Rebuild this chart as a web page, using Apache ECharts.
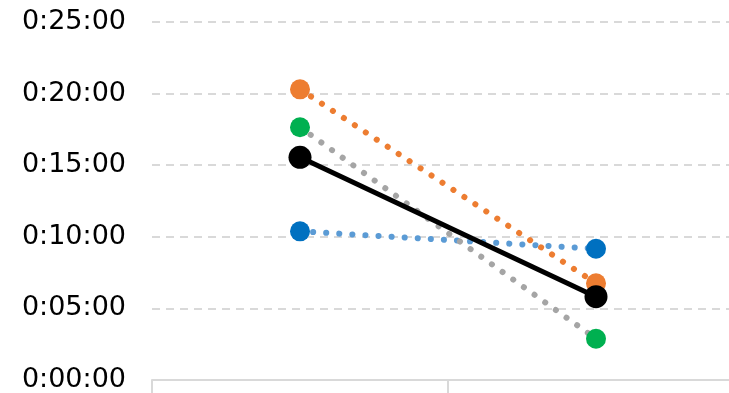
<!DOCTYPE html>
<html><head><meta charset="utf-8">
<script src="https://cdn.jsdelivr.net/npm/echarts@6/dist/echarts.min.js"></script>
<style>html,body{margin:0;padding:0;background:#fff}#c{width:729px;height:393px}</style>
</head><body><div id="c"></div>
<script>
// values in seconds
var categories = ['Before', 'After'];
var blueValues = [623, 550];
var orangeValues = [1218, 405];
var greenValues = [1059, 173];
var blackValues = [933, 349];
var yTicks = ['0:00:00', '0:05:00', '0:10:00', '0:15:00', '0:20:00', '0:25:00'];

var chart = echarts.init(document.getElementById('c'));
var dot = function (c) { return { color: c, width: 6, type: [0.1, 13], cap: 'round' }; };
chart.setOption({
  animation: false,
  grid: { left: 152, top: 22, right: -15, bottom: 13, containLabel: false, outerBoundsMode: 'none' },
  xAxis: {
    type: 'category', data: categories, boundaryGap: true,
    axisLine: { lineStyle: { color: '#d9d9d9', width: 2 } },
    axisTick: { show: true, length: 14, lineStyle: { color: '#d9d9d9', width: 2 } },
    axisLabel: { show: false }
  },
  yAxis: {
    type: 'value', min: 0, max: 1500, interval: 300,
    axisLine: { show: false }, axisTick: { show: false },
    axisLabel: { formatter: function (v) { return yTicks[Math.round(v / 300)]; }, fontFamily: 'DejaVu Sans', fontSize: 27, color: '#000', margin: 26 },
    splitLine: { lineStyle: { color: '#d9d9d9', width: 2, type: [8, 6] } }
  },
  series: [
    { type: 'line', data: blueValues, symbol: 'circle', symbolSize: 20, itemStyle: { color: '#0070C0' }, lineStyle: dot('#5B9BD5') },
    { type: 'line', data: orangeValues, symbol: 'circle', symbolSize: 20, itemStyle: { color: '#ED7D31' }, lineStyle: dot('#ED7D31') },
    { type: 'line', data: greenValues, symbol: 'circle', symbolSize: 20, itemStyle: { color: '#00B050' }, lineStyle: dot('#A5A5A5') },
    { type: 'line', data: blackValues, symbol: 'circle', symbolSize: 23, itemStyle: { color: '#000' }, lineStyle: { color: '#000', width: 5 } }
  ]
});
</script></body></html>
